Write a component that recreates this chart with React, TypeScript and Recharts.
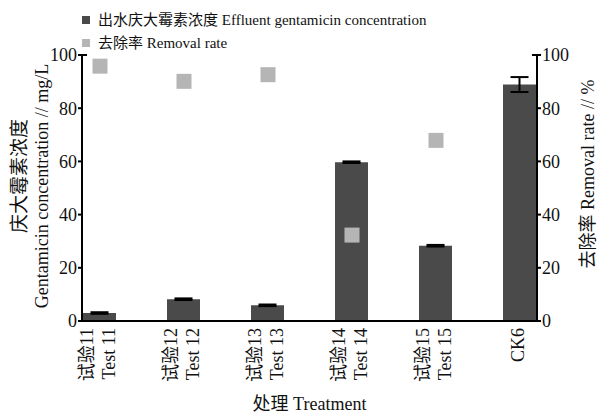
import React from 'react';
import {
  ComposedChart,
  Bar,
  ErrorBar,
  Scatter,
  XAxis,
  YAxis,
  Legend,
  Label,
  ReferenceLine,
} from 'recharts';

// 处理组
const treatmentCn = ['试验11', '试验12', '试验13', '试验14', '试验15', 'CK6'];
const treatmentEn = ['Test 11', 'Test 12', 'Test 13', 'Test 14', 'Test 15', ''];

// 出水庆大霉素浓度 (mg/L) 及误差
const concentration = [3.0, 8.2, 5.9, 59.7, 28.3, 88.9];
const concentrationErr = [0.3, 0.3, 0.3, 0.3, 0.3, 2.8];

// 去除率 (%)，CK6 没有
const removalRate = [95.8, 90.1, 92.6, 32.3, 67.9];

const yTicks = [0, 20, 40, 60, 80, 100];
const xTicks = [0, 1, 2, 3, 4, 5];

const DARK = '#4a4a4a';
const LIGHT = '#b5b5b5';
const FONT = "'Liberation Serif', 'Noto Sans CJK SC', serif";

const X_MIN = -0.2143;
const X_MAX = 5.2024;

const barData = treatmentCn.map((name, i) => ({
  idx: i,
  name,
  conc: concentration[i],
  err: concentrationErr[i],
}));

const rateData = removalRate.map((r, i) => ({ idx: i, rate: r }));

function TreatmentTick(props: any) {
  const { x, y, payload } = props;
  const i = payload.value as number;
  const cn = treatmentCn[i];
  const en = treatmentEn[i];
  const top = y - 1;
  if (!en) {
    return (
      <g transform={`translate(${x},${top})`}>
        <text
          transform="translate(-2,0) rotate(-90)"
          textAnchor="end"
          dominantBaseline="central"
          fontSize={18}
          fontFamily={FONT}
          fill="#111"
        >
          {cn}
        </text>
      </g>
    );
  }
  return (
    <g transform={`translate(${x},${top})`}>
      <text
        transform="translate(-13,0) rotate(-90)"
        textAnchor="end"
        dominantBaseline="central"
        fontSize={18}
        fontFamily={FONT}
        fill="#111"
      >
        {cn}
      </text>
      <text
        transform="translate(9,0) rotate(-90)"
        textAnchor="end"
        dominantBaseline="central"
        fontSize={18}
        fontFamily={FONT}
        fill="#111"
      >
        {en}
      </text>
    </g>
  );
}

function LegendBox() {
  const row = (color: string, text: string, top: number) => (
    <div style={{ position: 'absolute', left: 0, top, height: 20, width: 606 }}>
      <span
        style={{
          position: 'absolute',
          left: 82,
          top: 6,
          width: 8,
          height: 8,
          background: color,
        }}
      />
      <span
        style={{
          position: 'absolute',
          left: 98,
          top: 0,
          lineHeight: '20px',
          fontSize: 15,
          fontFamily: FONT,
          color: '#111',
          whiteSpace: 'nowrap',
        }}
      >
        {text}
      </span>
    </div>
  );
  return (
    <div style={{ position: 'relative', width: 606, height: 50 }}>
      {row(DARK, '出水庆大霉素浓度 Effluent gentamicin concentration', 5)}
      {row(LIGHT, '去除率 Removal rate', 28)}
    </div>
  );
}

function LeftAxisLabel(props: any) {
  const { viewBox } = props;
  const cy = viewBox.y + viewBox.height / 2;
  return (
    <g>
      <text
        transform={`translate(19,${cy - 12}) rotate(-90)`}
        textAnchor="middle"
        dominantBaseline="central"
        fontSize={19}
        fontFamily={FONT}
        fill="#111"
      >
        庆大霉素浓度
      </text>
      <text
        transform={`translate(42,${cy - 2}) rotate(-90)`}
        textAnchor="middle"
        dominantBaseline="central"
        fontSize={18}
        fontFamily={FONT}
        fill="#111"
      >
        Gentamicin concentration // mg/L
      </text>
    </g>
  );
}

function RightAxisLabel(props: any) {
  const { viewBox } = props;
  const cy = viewBox.y + viewBox.height / 2;
  return (
    <text
      transform={`translate(588,${cy - 14}) rotate(-90)`}
      textAnchor="middle"
      dominantBaseline="central"
      fontSize={18}
      fontFamily={FONT}
      fill="#111"
    >
      去除率 Removal rate // %
    </text>
  );
}

const RateSquare = (props: any) => {
  const { cx, cy } = props;
  return <rect x={cx - 7.5} y={cy - 7.5} width={15} height={15} fill={LIGHT} />;
};

export default function App() {
  const tickStyle = { fontSize: 18, fill: '#111', fontFamily: FONT };
  return (
    <div style={{ position: 'absolute', left: 0, top: 0, background: '#fff' }}>
      <ComposedChart
        width={606}
        height={415}
        data={barData}
        margin={{ top: 5, right: 0, bottom: 0, left: 0 }}
      >
        <Legend verticalAlign="top" wrapperStyle={{ left: 0, top: 5 }} content={<LegendBox />} />
        <XAxis
          type="number"
          dataKey="idx"
          domain={[X_MIN, X_MAX]}
          allowDataOverflow
          ticks={xTicks}
          interval={0}
          tickLine={false}
          tick={<TreatmentTick />}
          height={94}
          axisLine={{ stroke: '#000', strokeWidth: 2 }}
        >
          <Label
            value="处理 Treatment"
            position="insideBottom"
            offset={5}
            style={{ fontSize: 18, fontFamily: FONT, fill: '#111' }}
          />
        </XAxis>
        <YAxis
          yAxisId="left"
          orientation="left"
          domain={[0, 100]}
          ticks={yTicks}
          width={82}
          tickSize={4}
          tickMargin={1}
          tick={tickStyle}
          axisLine={{ stroke: '#000', strokeWidth: 2 }}
          tickLine={{ stroke: '#000', strokeWidth: 2 }}
        >
          <Label content={<LeftAxisLabel />} />
        </YAxis>
        <YAxis
          yAxisId="right"
          orientation="right"
          domain={[0, 100]}
          ticks={yTicks}
          width={69}
          tickSize={4}
          tickMargin={1}
          tick={tickStyle}
          axisLine={{ stroke: '#000', strokeWidth: 2 }}
          tickLine={{ stroke: '#000', strokeWidth: 2 }}
        >
          <Label content={<RightAxisLabel />} />
        </YAxis>
        <Bar
          yAxisId="left"
          dataKey="conc"
          name="出水庆大霉素浓度 Effluent gentamicin concentration"
          fill={DARK}
          barSize={33}
          isAnimationActive={false}
        >
          <ErrorBar dataKey="err" width={9} stroke="#000" strokeWidth={2} direction="y" />
        </Bar>
        <Scatter
          yAxisId="right"
          data={rateData}
          dataKey="rate"
          name="去除率 Removal rate"
          fill={LIGHT}
          shape={<RateSquare />}
          isAnimationActive={false}
        />
        <ReferenceLine
          yAxisId="left"
          segment={[
            { x: X_MIN, y: 100 },
            { x: X_MIN + 0.06, y: 100 },
          ]}
          stroke="#000"
          strokeWidth={2}
        />
        <ReferenceLine
          yAxisId="right"
          segment={[
            { x: X_MAX - 0.06, y: 100 },
            { x: X_MAX, y: 100 },
          ]}
          stroke="#000"
          strokeWidth={2}
        />
      </ComposedChart>
    </div>
  );
}
